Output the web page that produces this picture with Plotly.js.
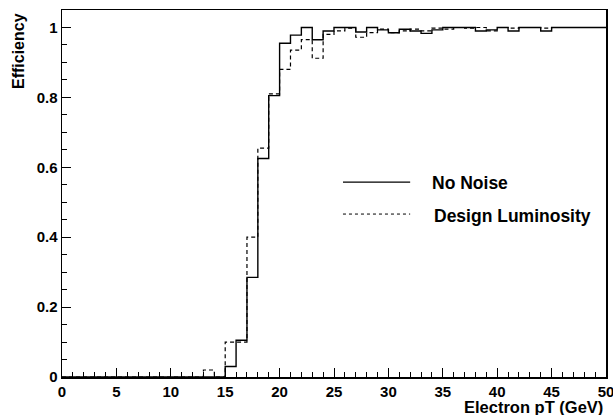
<!DOCTYPE html>
<html>
<head>
<meta charset="utf-8">
<script src="https://cdn.plot.ly/plotly-3.0.1.min.js"></script>
<style>html,body{margin:0;padding:0;background:#fff;}#chart{width:613px;height:415px;}</style>
</head>
<body>
<div id="chart"></div>
<script>
// Bin lower edges (GeV), bin width 1
const binEdges = [0,1,2,3,4,5,6,7,8,9,10,11,12,13,14,15,16,17,18,19,20,21,22,23,24,25,26,27,28,29,30,31,32,33,34,35,36,37,38,39,40,41,42,43,44,45,46,47,48,49,50];
const noNoise = [0,0,0,0,0,0,0,0,0,0,0,0,0,0,0,
  0.03,0.105,0.285,0.625,0.805,0.955,0.978,1.0,0.965,0.99,
  1.0,1.0,0.987,1.0,0.993,0.985,0.995,0.99,0.983,0.993,
  1.0,1.0,1.0,0.99,0.993,1.0,0.99,1.0,1.0,0.99,
  1.0,1.0,1.0,1.0,1.0];
const designLumi = [0,0,0,0,0,0,0,0,0,0,0,0,0,0.02,0,
  0.1,0.1,0.4,0.655,0.81,0.88,0.935,0.965,0.912,0.98,
  0.99,0.998,0.972,0.985,0.995,0.985,0.99,0.995,0.99,0.998,
  0.995,1.0,0.998,1.0,0.99,1.0,0.998,1.0,1.0,0.998,
  1.0,1.0,1.0,1.0,1.0];
const xTickVals = [0,5,10,15,20,25,30,35,40,45,50];
const yTickVals = [0,0.2,0.4,0.6,0.8,1];
const yTickText = ['0','0.2','0.4','0.6','0.8','1'];

function stepY(v){ return v.concat([v[v.length-1]]); }

const FONT = 'Liberation Sans, Arial, Helvetica, sans-serif';

const traces = [
  {x: binEdges, y: stepY(designLumi), mode:'lines', line:{shape:'hv', color:'#000', width:1.2, dash:'4px,3px'}, showlegend:false, name:'Design Luminosity', hoverinfo:'skip'},
  {x: binEdges, y: stepY(noNoise), mode:'lines', line:{shape:'hv', color:'#000', width:1.4}, showlegend:false, name:'No Noise', hoverinfo:'skip'}
];

const layout = {
  width:613, height:415,
  margin:{l:62, r:7, t:10, b:38},
  paper_bgcolor:'#fff', plot_bgcolor:'#fff',
  font:{family:FONT, color:'#000'},
  xaxis:{range:[0,50], tickvals:xTickVals, ticks:'inside', ticklen:9, tickwidth:1, tickcolor:'#000',
    minor:{dtick:1, tick0:0, ticks:'inside', ticklen:5, tickcolor:'#000', tickwidth:1, showgrid:false},
    showline:true, linecolor:'#000', linewidth:1.5, mirror:true, showgrid:false, zeroline:false,
    ticklabeloverflow:'allow',
    tickfont:{family:FONT, size:15, weight:'bold', color:'#000'}, ticklabelstandoff:0},
  yaxis:{range:[0,1.05], tickvals:yTickVals, ticktext:yTickText, ticks:'inside', ticklen:9, tickwidth:1, tickcolor:'#000',
    minor:{dtick:0.05, tick0:0, ticks:'inside', ticklen:5, tickcolor:'#000', tickwidth:1, showgrid:false},
    showline:true, linecolor:'#000', linewidth:1.5, mirror:true, showgrid:false, zeroline:false,
    ticklabeloverflow:'allow',
    tickfont:{family:FONT, size:15, weight:'bold', color:'#000'}},
  shapes:[
    {type:'line', xref:'paper', yref:'paper', x0:0.5165, x1:0.640, y0:0.531, y1:0.531, line:{color:'#000', width:1.3}},
    {type:'line', xref:'paper', yref:'paper', x0:0.5165, x1:0.640, y0:0.444, y1:0.444, line:{color:'#000', width:1, dash:'3px,3px'}}
  ],
  annotations:[
    {text:'No Noise', xref:'paper', yref:'paper', x:0.676, y:0.529, xanchor:'left', yanchor:'middle', showarrow:false, font:{family:FONT, size:17.5, weight:'bold', color:'#000'}},
    {text:'Design Luminosity', xref:'paper', yref:'paper', x:0.680, y:0.439, xanchor:'left', yanchor:'middle', showarrow:false, font:{family:FONT, size:17.5, weight:'bold', color:'#000'}},
    {text:'Electron pT (GeV)', xref:'paper', yref:'paper', x:0.998, y:-0.082, xanchor:'right', yanchor:'middle', showarrow:false, font:{family:FONT, size:16.5, weight:'bold', color:'#000'}},
    {text:'Efficiency', xref:'paper', yref:'paper', x:-0.081, y:0.888, xanchor:'center', yanchor:'middle', textangle:-90, showarrow:false, font:{family:FONT, size:16, weight:'bold', color:'#000'}}
  ]
};

Plotly.newPlot('chart', traces, layout, {staticPlot:true, displayModeBar:false});
</script>
</body>
</html>
